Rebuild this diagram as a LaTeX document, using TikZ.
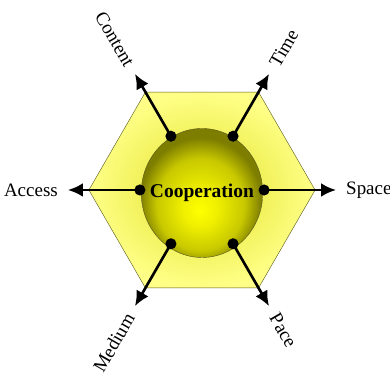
\documentclass[tikz,border=0pt]{standalone}
\usepackage{fontspec}
\setmainfont{Liberation Serif}
\usetikzlibrary{arrows.meta,shapes.geometric}
\definecolor{hexPale}{RGB}{255,255,135}
\definecolor{hexDeep}{RGB}{225,225,40}
\definecolor{sphLight}{RGB}{255,255,0}
\definecolor{sphMid}{RGB}{200,200,0}
\definecolor{sphDark}{RGB}{125,125,0}
\definecolor{bord}{RGB}{90,90,30}
\pgfdeclareradialshading{sphere}{\pgfpoint{-1bp}{-7bp}}{color(0bp)=(sphLight); color(7bp)=(sphLight!94!black); color(18bp)=(sphMid); color(25bp)=(sphDark); color(50bp)=(sphDark)}
\tikzset{
  >={Latex[length=5mm,width=4.6mm]},
  fleche/.style={->, line width=2.5pt, draw=black},
  point/.style={circle, fill=black, inner sep=0pt, minimum size=0.37cm},
  axe/.style={font=\fontsize{18}{20}\selectfont, inner sep=0pt},
  noyau/.style={ellipse, draw=bord, shade, shading=sphere, minimum width=4.05cm,
    minimum height=4.3cm, inner sep=0pt},
}
\begin{document}
\begin{tikzpicture}
  \useasboundingbox (-6.733,-6.167) rectangle (6.267,6.333);
  % hexagone
  \shade[draw=bord, inner color=hexDeep, outer color=hexPale]
    (0:3.77) \foreach \a in {60,120,...,300} {-- (\a:3.77)} -- cycle;
  % sphère centrale
  \node[noyau, label={[font=\fontsize{18.5}{20}\selectfont\bfseries, inner sep=0pt]center:Cooperation}]
    (coop) at (0,-0.1) {};
  % axes
  \foreach \a/\nom/\rot/\anc in {0/Space/0/west, 60/Time/60/west, 120/Content/-60/east,
                                 180/Access/0/east, 240/Medium/60/east, 300/Pace/-60/west} {
    \node[point] (p\a) at (\a:2.07) {};
    \coordinate (t\a) at (\a:4.47);
    \draw[fleche] (p\a.center) -- (t\a);
    \node[axe, rotate=\rot, anchor=\anc] (l\a) at (\a:4.8) {\nom};
  }
\end{tikzpicture}
\end{document}
